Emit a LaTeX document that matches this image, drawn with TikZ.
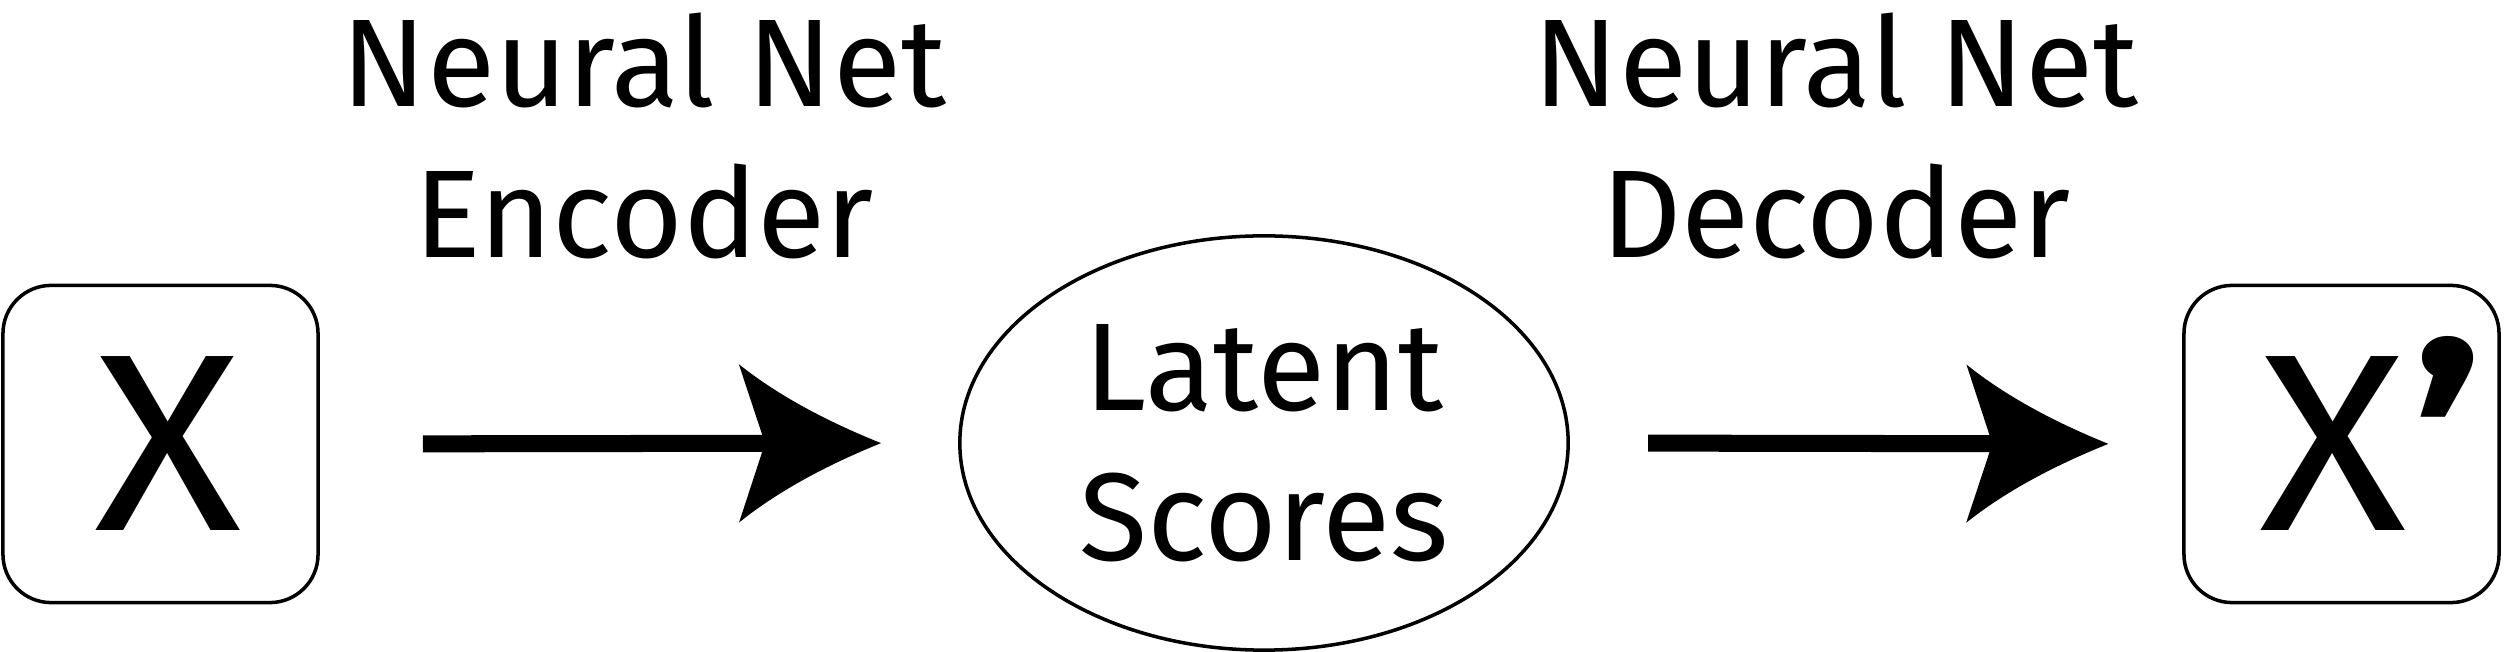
\documentclass[tikz,border=0pt]{standalone}
\usepackage{fontspec}
\setmainfont{Fira Sans}
\usetikzlibrary{arrows.meta,shapes.geometric}
\pgfdeclarearrow{
  name = Swept,
  parameters = {},
  setup code = {
    \pgfarrowssettipend{0pt}
    \pgfarrowssetbackend{-40.4pt}
    \pgfarrowssetlineend{-20pt}
    \pgfarrowshullpoint{0pt}{0pt}
    \pgfarrowsupperhullpoint{-40.4pt}{22.5pt}
  },
  drawing code = {
    \pgfpathmoveto{\pgfpoint{0pt}{0pt}}
    \pgfpathcurveto{\pgfpoint{-16.5pt}{6.64pt}}{\pgfpoint{-29.97pt}{14.14pt}}{\pgfpoint{-40.4pt}{22.5pt}}
    \pgfpathlineto{\pgfpoint{-33pt}{0pt}}
    \pgfpathlineto{\pgfpoint{-40.4pt}{-22.5pt}}
    \pgfpathcurveto{\pgfpoint{-29.97pt}{-14.14pt}}{\pgfpoint{-16.5pt}{-6.64pt}}{\pgfpoint{0pt}{0pt}}
    \pgfpathclose
    \pgfusepathqfill
  }
}
\newcommand{\bigX}{\scalebox{1.08}[1]{X}}
\tikzset{
  databox/.style={draw, line width=1pt, rounded corners=13.7pt, minimum width=89.6pt,
    minimum height=90.2pt, inner sep=0pt, font=\fontsize{71.8pt}{80pt}\selectfont},
  latentnode/.style={draw, ellipse, line width=1pt, minimum width=173pt, minimum height=117.8pt,
    inner sep=0pt, align=center, font=\fontsize{35.5pt}{42.7pt}\selectfont},
  netlabel/.style={align=center, inner sep=0pt, font=\fontsize{35.5pt}{42.7pt}\selectfont},
  flow/.style={line width=4.84pt, -{Swept}},
}
\begin{document}
\begin{tikzpicture}[x=0.01cm, y=0.01cm]
\useasboundingbox (0,0) rectangle (2505,-652);
\node[databox] (x) at (160.5,-444) {\hspace*{4.27pt}\bigX};
\node[latentnode] (lat) at (1264,-443) {Latent\\Scores};
\node[databox] (xp) at (2341.5,-444)
  {\makebox[0pt][c]{\hspace*{-4.55pt}\bigX}\rlap{\hspace*{20pt}\smash{\raisebox{-2.5pt}{\scalebox{1.2}[1.05]{\bfseries ’}}}}};
\node[netlabel] (enc) at (644,-136) {Neural Net\\Encoder};
\node[netlabel] (dec) at (1836,-136) {Neural Net\\Decoder};
\draw[flow, shorten <=29.3pt, shorten >=21.9pt] (x.east) -- (lat.west);
\draw[flow, shorten <=22.2pt, shorten >=21pt] (lat.east) -- (xp.west);
\end{tikzpicture}
\end{document}
